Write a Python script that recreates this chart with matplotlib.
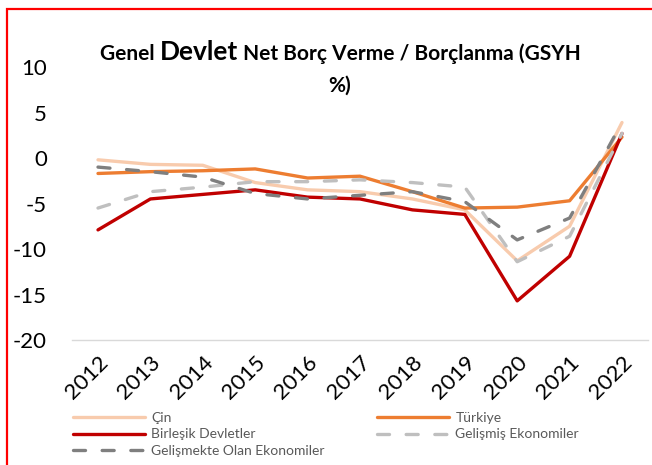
import matplotlib
matplotlib.use("Agg")
import matplotlib.pyplot as plt
from matplotlib.patches import Rectangle

plt.rcParams['font.family'] = ['Lato', 'DejaVu Sans']

# Genel devlet net borç verme / borçlanma (GSYH %)
years = [2012, 2013, 2014, 2015, 2016, 2017, 2018, 2019, 2020, 2021, 2022]
cin = [-0.2, -0.7, -0.8, -2.7, -3.5, -3.7, -4.5, -5.7, -11.3, -7.5, 3.9]
turkiye = [-1.7, -1.5, -1.4, -1.2, -2.2, -2.0, -3.7, -5.5, -5.4, -4.7, 2.3]
abd = [-7.9, -4.5, -4.0, -3.5, -4.3, -4.5, -5.7, -6.2, -15.7, -10.8, 2.7]
gelismis = [-5.5, -3.7, -3.2, -2.6, -2.6, -2.4, -2.7, -3.2, -11.4, -8.6, 2.7]
gelismekte = [-1.0, -1.5, -2.1, -3.9, -4.5, -4.1, -3.7, -4.8, -9.0, -6.6, 3.9]
yticks = [10, 5, 0, -5, -10, -15, -20]

W, H = 652, 465
fig = plt.figure(figsize=(W / 100, H / 100), dpi=100)
ax = fig.add_axes([71.8 / W, 1 - 340 / H, (648.2 - 71.8) / W, (340 - 67) / H])

x = list(range(len(years)))
lw = 2.4
dash = (0, (3.6, 5.0))

l_cin, = ax.plot(x, cin, color='#F8CBAD', lw=lw, solid_capstyle='round', label='Çin')
l_tr, = ax.plot(x, turkiye, color='#ED7D31', lw=lw, solid_capstyle='round', label='Türkiye')
l_abd, = ax.plot(x, abd, color='#C00000', lw=lw, solid_capstyle='round', label='Birleşik Devletler')
l_gm, = ax.plot(x, gelismis, color='#BFBFBF', lw=lw, ls=dash, dash_capstyle='round', label='Gelişmiş Ekonomiler')
l_go, = ax.plot(x, gelismekte, color='#7F7F7F', lw=lw, ls=dash, dash_capstyle='round', label='Gelişmekte Olan Ekonomiler')

ax.set_xlim(-0.5, len(years) - 0.5)
ax.set_ylim(-20, 10)
ax.set_yticks(yticks)
ax.set_yticklabels([str(v) for v in yticks])
ax.set_xticks(x)
ax.set_xticklabels([str(y) for y in years], rotation=45, ha='right', rotation_mode='anchor')
ax.tick_params(axis='both', length=0, labelsize=16, colors='black')
ax.tick_params(axis='x', pad=9)
ax.tick_params(axis='y', pad=18)
for s in ['top', 'right', 'left']:
    ax.spines[s].set_visible(False)
ax.spines['bottom'].set_color('#D9D9D9')
ax.spines['bottom'].set_linewidth(1.0)

# legend: two separate columns like in Excel
leg_kw = dict(frameon=False, fontsize=10, handlelength=5.2, handletextpad=0.45,
              borderpad=0, borderaxespad=0, labelspacing=0.32, labelcolor='#595959',
              loc='upper left', bbox_transform=fig.transFigure)
leg1 = fig.legend([l_cin, l_abd, l_go], ['Çin', 'Birleşik Devletler', 'Gelişmekte Olan Ekonomiler'],
                  bbox_to_anchor=(73 / W, 1 - 412 / H), **leg_kw)
leg2 = fig.legend([l_tr, l_gm], ['Türkiye', 'Gelişmiş Ekonomiler'],
                  bbox_to_anchor=(377 / W, 1 - 412 / H), **leg_kw)

# title with larger "Devlet"
r = fig.canvas.get_renderer()
parts = [('Genel ', 15), ('Devlet', 19), (' Net Borç Verme / Borçlanma (GSYH', 15)]
texts = []
for s, fs in parts:
    t = fig.text(0, 1 - 60 / H, s, fontsize=fs, fontweight='bold', va='baseline', ha='left')
    texts.append(t)
widths = [t.get_window_extent(r).width for t in texts]
x0 = 340 - sum(widths) / 2
for t, w in zip(texts, widths):
    t.set_x(x0 / W)
    x0 += w
fig.text(340 / W, 1 - 92 / H, '%)', fontsize=15, fontweight='bold', va='baseline', ha='center')

# red frame
fig.patches.append(Rectangle((7 / W, -0.1), 2, 1.1 - 9 / H, transform=fig.transFigure,
                             fill=False, edgecolor='#FF0000', lw=1.6))

fig.savefig('out.png', dpi=100)
